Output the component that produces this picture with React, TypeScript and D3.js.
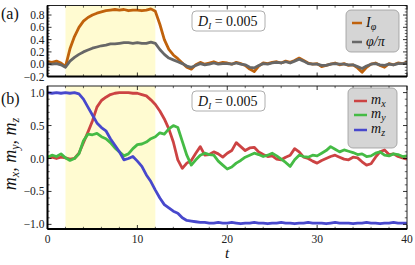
import * as d3 from 'd3'

const tGrid = d3.range(0, 40.01, 0.5)

// panel (a)
const iPhi = [
  0.04, 0.03, 0.05, 0.02, -0.04, 0.25, 0.45, 0.6, 0.7, 0.76, 0.8, 0.83, 0.85, 0.87, 0.88, 0.89, 0.88, 0.89, 0.87, 0.88,
  0.88, 0.87, 0.88, 0.9, 0.86, 0.65, 0.4, 0.24, 0.15, 0.09, 0.02, -0.05, -0.08, -0.01, 0.03, 0.0, 0.02, 0.04, 0.01, 0.03,
  0.02, 0.0, 0.03, 0.01, -0.02, -0.08, -0.12, -0.03, 0.02, 0.01, 0.03, 0.04, 0.02, 0.05, 0.03, 0.06, 0.1, 0.06, 0.02, 0.0,
  0.01, -0.04, -0.02, 0.0, 0.02, -0.01, 0.01, -0.02, -0.01, -0.06, -0.13, -0.05, 0.0, 0.02, -0.02, -0.05, 0.01, -0.01, 0.02, 0.01,
  0.03,
]
const phiPi = [
  0.01, 0.0, 0.01, -0.01, -0.05, 0.05, 0.11, 0.16, 0.2, 0.23, 0.26, 0.28, 0.3, 0.31, 0.33, 0.33, 0.34, 0.35, 0.35, 0.34,
  0.35, 0.34, 0.34, 0.36, 0.34, 0.24, 0.16, 0.1, 0.07, 0.04, 0.01, -0.03, -0.05, -0.02, 0.01, -0.01, 0.0, 0.02, 0.0, 0.01,
  0.01, 0.0, 0.02, 0.0, -0.01, -0.05, -0.06, -0.02, 0.01, 0.0, 0.02, 0.03, 0.02, 0.04, 0.02, 0.05, 0.08, 0.05, 0.01, 0.0,
  0.0, -0.02, -0.02, 0.0, 0.01, 0.0, 0.0, -0.01, -0.01, -0.04, -0.07, -0.03, 0.0, 0.01, -0.01, -0.02, 0.0, -0.01, 0.01, 0.01,
  0.02,
]

// panel (b)
const mx = [
  0.01, 0.02, 0.0, 0.02, 0.01, -0.01, 0.0, 0.08, 0.24, 0.4, 0.57, 0.78, 0.88, 0.93, 0.97, 0.99, 1.0, 1.0, 1.0, 0.99,
  0.99, 0.97, 0.95, 0.89, 0.82, 0.72, 0.6, 0.45, 0.25, -0.02, -0.15, -0.07, -0.03, 0.08, 0.18, 0.05, 0.06, 0.1, 0.07, 0.02,
  0.08, 0.12, 0.24, 0.18, 0.12, 0.16, 0.17, 0.1, 0.06, 0.03, 0.04, -0.01, -0.02, 0.02, 0.05, 0.15, 0.1, 0.02, 0.0, -0.04,
  -0.07, -0.03, 0.0, 0.03, 0.05, 0.02, -0.01, -0.02, 0.02, 0.01, -0.05, -0.1, -0.08, 0.02, 0.1, 0.13, 0.06, 0.07, 0.03, 0.01,
  -0.01,
]
const my = [
  0.02, 0.05, 0.03, 0.07, 0.01, -0.03, 0.0, 0.07, 0.27, 0.37, 0.36, 0.38, 0.33, 0.3, 0.24, 0.16, 0.1, 0.04, 0.07, 0.15,
  0.21, 0.22, 0.25, 0.3, 0.33, 0.39, 0.37, 0.45, 0.5, 0.47, 0.26, 0.05, -0.1, -0.02, 0.05, 0.08, 0.06, 0.05, -0.04, -0.1,
  -0.16, -0.13, -0.07, -0.03, 0.02, 0.05, 0.08, 0.06, 0.03, 0.05, 0.08, 0.04, -0.01, -0.06, -0.12, -0.02, 0.05, 0.03, 0.02, 0.05,
  0.04, 0.08, 0.12, 0.18, 0.14, 0.1, 0.13, 0.11, 0.09, 0.06, 0.07, 0.03, 0.04, 0.08, 0.1, 0.05, 0.04, 0.07, 0.06, 0.03,
  0.04,
]
const mz = [
  1.0, 0.99, 1.0, 0.99, 1.0, 0.99, 1.0, 0.98, 0.9, 0.78, 0.66, 0.54, 0.47, 0.42, 0.3, 0.2, 0.1, -0.02, 0.0, 0.03,
  -0.04, -0.12, -0.25, -0.35, -0.48, -0.6, -0.7, -0.75, -0.8, -0.83, -0.9, -0.94, -0.95, -0.96, -0.97, -0.97, -0.98, -0.98, -0.97, -0.98,
  -0.98, -0.97, -0.98, -0.99, -0.98, -0.98, -0.97, -0.98, -0.98, -0.99, -0.98, -0.98, -0.97, -0.98, -0.98, -0.99, -0.98, -0.98, -0.97, -0.98,
  -0.98, -0.98, -0.99, -0.98, -0.97, -0.98, -0.98, -0.98, -0.99, -0.98, -0.98, -0.97, -0.98, -0.98, -0.99, -0.98, -0.98, -0.97, -0.98, -0.98,
  -0.98,
]

const shade: [number, number] = [2, 12]
const xTicks = [0, 10, 20, 30, 40]
const yTicksA = [-0.2, 0, 0.2, 0.4, 0.6, 0.8]
const yTicksB = [-1, -0.5, 0, 0.5, 1]

const FONT = '"Liberation Serif", "DejaVu Serif", serif'
const fmt = (v: number) => (v < 0 ? '\u2212' : '') + Math.abs(v).toFixed(1)

const x = d3.scaleLinear().domain([0, 40]).range([47.5, 407])

interface PanelProps {
  id: string
  y: d3.ScaleLinear<number, number>
  yTicks: number[]
  yMinor: number
  series: { values: number[]; color: string }[]
  showX: boolean
}

function Panel({ id, y, yTicks, yMinor, series, showX }: PanelProps) {
  const [x0, x1] = x.range()
  const [yb, yt] = y.range()
  const line = d3
    .line<number>()
    .x((_, i) => x(tGrid[i]))
    .y(d => y(d))
  const minorX = d3.range(0, 40.01, 2).filter(v => v % 10 !== 0)
  const [d0, d1] = y.domain()
  const minorY = d3.range(Math.ceil(d0 / yMinor) * yMinor, d1, yMinor).filter(
    v => !yTicks.some(t => Math.abs(t - v) < 1e-6)
  )
  return (
    <g>
      <defs>
        <clipPath id={id}>
          <rect x={x0} y={yt} width={x1 - x0} height={yb - yt} />
        </clipPath>
      </defs>
      <rect x={x(shade[0])} y={yt} width={x(shade[1]) - x(shade[0])} height={yb - yt} fill="#fffbd1" />
      <g clipPath={`url(#${id})`}>
        {series.map((s, i) => (
          <path key={i} d={line(s.values) ?? ''} fill="none" stroke={s.color} strokeWidth={2.8} strokeLinejoin="round" />
        ))}
      </g>
      <rect x={x0} y={yt} width={x1 - x0} height={yb - yt} fill="none" stroke="#222" strokeWidth={1} />
      <line x1={x0} x2={x0} y1={yt} y2={yb} stroke="#000" strokeWidth={2} />
      <line x1={x0} x2={x1} y1={yb} y2={yb} stroke="#000" strokeWidth={2} />
      {xTicks.map(t => (
        <g key={'x' + t} stroke="#000" strokeWidth={0.8}>
          <line x1={x(t)} x2={x(t)} y1={yb} y2={yb - 4} />
          <line x1={x(t)} x2={x(t)} y1={yt} y2={yt + 4} />
        </g>
      ))}
      {minorX.map(t => (
        <g key={'mx' + t} stroke="#000" strokeWidth={0.6}>
          <line x1={x(t)} x2={x(t)} y1={yb} y2={yb - 2.2} />
          <line x1={x(t)} x2={x(t)} y1={yt} y2={yt + 2.2} />
        </g>
      ))}
      {yTicks.map(t => (
        <g key={'y' + t} stroke="#000" strokeWidth={0.8}>
          <line x1={x0} x2={x0 + 4} y1={y(t)} y2={y(t)} />
          <line x1={x1} x2={x1 - 4} y1={y(t)} y2={y(t)} />
        </g>
      ))}
      {minorY.map(t => (
        <g key={'my' + t} stroke="#000" strokeWidth={0.6}>
          <line x1={x0} x2={x0 + 2.2} y1={y(t)} y2={y(t)} />
          <line x1={x1} x2={x1 - 2.2} y1={y(t)} y2={y(t)} />
        </g>
      ))}
      {yTicks.map(t => (
        <text key={'yl' + t} x={x0 - 3} y={y(t)} dy="0.35em" textAnchor="end" fontSize={11.5} fontFamily={FONT} fill="#222">
          {fmt(t)}
        </text>
      ))}
      {showX &&
        xTicks.map(t => (
          <text key={'xl' + t} x={x(t)} y={yb + 14} textAnchor="middle" fontSize={11.5} fontFamily={FONT} fill="#222">
            {t}
          </text>
        ))}
    </g>
  )
}

function DBox({ top }: { top: number }) {
  return (
    <g fontFamily={FONT}>
      <rect x={192} y={top} width={73} height={20} rx={4} fill="#fff" stroke="#999" strokeWidth={0.8} />
      <text x={198} y={top + 15} fontSize={14} fill="#111">
        <tspan fontStyle="italic">D</tspan>
        <tspan fontStyle="italic" fontSize={9} dy={3}>I</tspan>
        <tspan dy={-3}> = 0.005</tspan>
      </text>
    </g>
  )
}

export default function App() {
  const ya = d3.scaleLinear().domain([-0.2, 0.955]).range([76.5, 5.5])
  const yb = d3.scaleLinear().domain([-1.07, 1.1]).range([229, 86])
  const colA = { i: '#c0620c', p: '#676767' }
  const colB = { x: '#cc4343', y: '#45bb45', z: '#4848cc' }
  return (
    <svg width={415} height={265} style={{ position: 'absolute', left: 0, top: 0 }}>
      <rect width={415} height={265} fill="#fff" />
      <Panel
        id="clipA"
        y={ya}
        yTicks={yTicksA}
        yMinor={0.05}
        series={[
          { values: iPhi, color: colA.i },
          { values: phiPi, color: colA.p },
        ]}
        showX={false}
      />
      <Panel
        id="clipB"
        y={yb}
        yTicks={yTicksB}
        yMinor={0.1}
        series={[
          { values: mx, color: colB.x },
          { values: my, color: colB.y },
          { values: mz, color: colB.z },
        ]}
        showX={true}
      />
      <DBox top={11} />
      <DBox top={91} />

      {/* legend a */}
      <g fontFamily={FONT}>
        <rect x={346} y={10} width={53} height={42} rx={5} fill="#d5d5d5" stroke="#999" strokeWidth={0.8} />
        <line x1={352} x2={362} y1={23} y2={23} stroke={colA.i} strokeWidth={2.5} />
        <text x={366} y={27} fontSize={14} fontStyle="italic" fill="#111">
          I<tspan fontSize={10} dy={3}>φ</tspan>
        </text>
        <line x1={352} x2={362} y1={42} y2={42} stroke={colA.p} strokeWidth={2.5} />
        <text x={366} y={46} fontSize={14} fontStyle="italic" fill="#111">
          φ/π
        </text>
      </g>

      {/* legend b */}
      <g fontFamily={FONT}>
        <rect x={348} y={88} width={49} height={60} rx={5} fill="#d5d5d5" stroke="#999" strokeWidth={0.8} />
        {[
          { c: colB.x, s: 'x', yy: 101 },
          { c: colB.y, s: 'y', yy: 115 },
          { c: colB.z, s: 'z', yy: 130 },
        ].map(d => (
          <g key={d.s}>
            <line x1={354} x2={367} y1={d.yy} y2={d.yy} stroke={d.c} strokeWidth={2.5} />
            <text x={371} y={d.yy + 3} fontSize={14} fontStyle="italic" fill="#111">
              m<tspan fontSize={10} dy={3}>{d.s}</tspan>
            </text>
          </g>
        ))}
      </g>

      <text x={1} y={19} fontSize={16} fontFamily={FONT} fill="#111">(a)</text>
      <text x={1} y={104} fontSize={16} fontFamily={FONT} fill="#111">(b)</text>
      <text x={227} y={258} fontSize={15} fontStyle="italic" fontFamily={FONT} textAnchor="middle" fill="#111">t</text>
      <text transform="translate(16,154) rotate(-90)" fontSize={18} fontStyle="italic" fontFamily={FONT} textAnchor="middle" fill="#111">
        m<tspan fontSize={12} dy={3}>x</tspan><tspan dy={-3}>, m</tspan><tspan fontSize={12} dy={3}>y</tspan><tspan dy={-3}>, m</tspan><tspan fontSize={12} dy={3}>z</tspan>
      </text>
    </svg>
  )
}
